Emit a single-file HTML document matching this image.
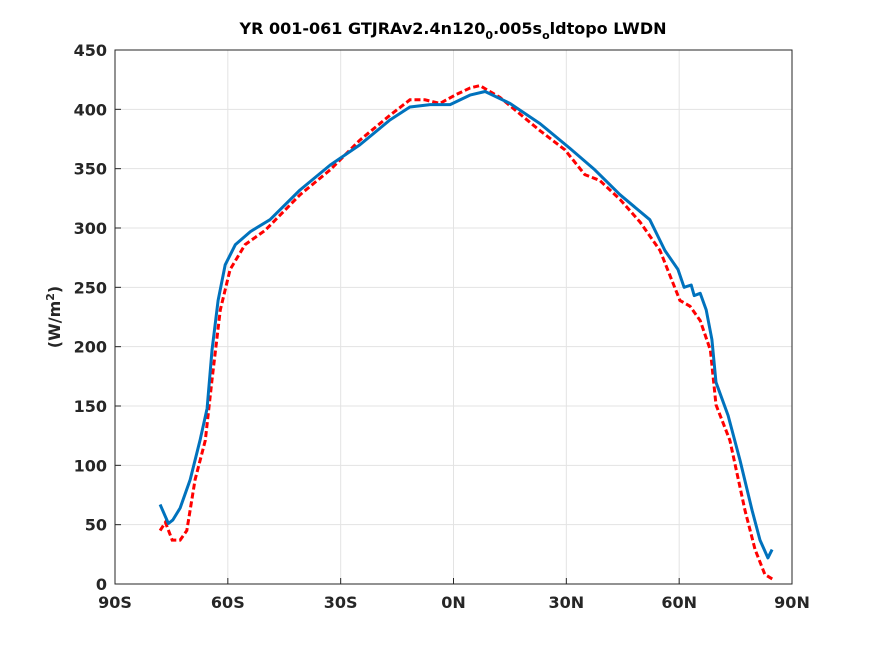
<!DOCTYPE html>
<html><head><meta charset="utf-8"><style>
body{margin:0;background:#fff}
svg text{font-family:"DejaVu Sans","Liberation Sans",sans-serif;font-weight:bold;fill:#262626}
</style></head><body>
<svg id="chart" width="875" height="656" xmlns="http://www.w3.org/2000/svg">
<rect width="875" height="656" fill="#fff"/>
<g id="grid"></g>
<g id="series"></g>
<rect x="115" y="50" width="677" height="534" fill="none" stroke="#262626" stroke-width="1"/>
<g id="ticks"></g>
<text x="453" y="34" text-anchor="middle" font-size="16" style="fill:#000">YR 001-061 GTJRAv2.4n120<tspan dy="5" font-size="11">0</tspan><tspan dy="-5">.005s</tspan><tspan dy="5" font-size="11">o</tspan><tspan dy="-5">ldtopo LWDN</tspan></text>
<text transform="translate(60,317) rotate(-90)" text-anchor="middle" font-size="16">(W/m<tspan dy="-6" font-size="11">2</tspan><tspan dy="6">)</tspan></text>
</svg>
<script>
const xTicks=[-90,-60,-30,0,30,60,90];
const xLabels=["90S","60S","30S","0N","30N","60N","90N"];
const yTicks=[0,50,100,150,200,250,300,350,400,450];
const blueLat=[-78,-75.8,-74.6,-72.7,-70,-67.4,-65.5,-64.2,-62.6,-60.7,-58,-54,-48.8,-40.8,-32.8,-24.9,-16.9,-11.6,-6.2,-0.9,4.4,8.4,15,23,31,37.6,44.3,52.2,56.2,59.7,61.3,63.2,64,65.6,67.2,68.7,69.8,73,76.2,79.4,81.5,83.6,84.7];
const blueVal=[67,51,54,64,88,121,148,197,239,269,286,297,307,332,353,370,391,402,404,404,412,415,405,388,367,349,328,307,281,265,250,252,243,245,231,206,170,142,104,62,37,22,29];
const redLat=[-78,-76.6,-74.8,-72.7,-70.9,-68.7,-66,-64.2,-62,-59.4,-55.4,-50.1,-40.8,-32.8,-24.9,-16.9,-11.6,-7.6,-3.6,0.4,4.4,7,12.4,23,29.6,34.9,38.9,44.3,49.6,54.9,60.2,62.9,65.6,68.3,69.8,73.5,77.5,80.2,82.8,85.4];
const redVal=[45,52,37,37,45,88,121,172,231,265,286,298,328,349,374,395,408,408,405,412,418,420,410,382,366,345,340,324,305,281,239,234,222,197,151,121,62,29,8,3];
const X0=115,X1=792,Y0=584,Y1=50;
const sx=v=>X0+(v+90)/180*(X1-X0);
const sy=v=>Y0-v/450*(Y0-Y1);
const NS="http://www.w3.org/2000/svg";
const grid=document.getElementById('grid'),ticks=document.getElementById('ticks'),ser=document.getElementById('series');
function mk(t,a,p){const e=document.createElementNS(NS,t);for(const k in a)e.setAttribute(k,a[k]);p.appendChild(e);return e;}
xTicks.forEach((v,i)=>{
 const g=mk('line',{x1:sx(v),x2:sx(v),y1:Y1,y2:Y0,stroke:'#e3e3e3'},grid);
 
 
 const t=mk('line',{x1:sx(v),x2:sx(v),y1:Y0,y2:Y0-6,stroke:'#262626'},ticks);
 
 
 const l=mk('text',{x:sx(v),y:Y0+24,'text-anchor':'middle','font-size':16},ticks);
 l.textContent=xLabels[i];
 
 
});
yTicks.forEach(v=>{
 const g=mk('line',{x1:X0,x2:X1,y1:sy(v),y2:sy(v),stroke:'#e3e3e3'},grid);
 
 
 const t=mk('line',{x1:X0,x2:X0+6,y1:sy(v),y2:sy(v),stroke:'#262626'},ticks);
 
 
 const l=mk('text',{x:X0-8,y:sy(v)+6,'text-anchor':'end','font-size':16},ticks);
 l.textContent=v;
 
 
});
function pts(la,va){return la.map((x,i)=>sx(x).toFixed(1)+','+sy(va[i]).toFixed(1)).join(' ');}
const r=mk('polyline',{points:pts(redLat,redVal),fill:'none',stroke:'#ff0000','stroke-width':3,'stroke-dasharray':'6,3'},ser);


const b=mk('polyline',{points:pts(blueLat,blueVal),fill:'none',stroke:'#0072bd','stroke-width':3,'stroke-linejoin':'round'},ser);


</script>
</body></html>
